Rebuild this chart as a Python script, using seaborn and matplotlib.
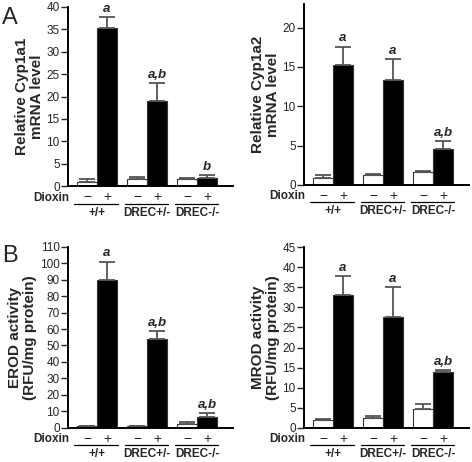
import numpy as np
import pandas as pd
import matplotlib
matplotlib.use('Agg')
from matplotlib import pyplot as plt
from matplotlib import transforms
import seaborn as sns


# genotypes and treatment
genotipos = ['+/+', 'DREC+/-', 'DREC-/-']
dioxina = ['\u2212', '+']

# Cyp1a1 mRNA (controle, dioxina) por genotipo
cyp1a1_ctrl = [1.0, 1.5, 1.5]
cyp1a1_ctrl_err = [0.7, 0.5, 0.4]
cyp1a1_diox = [35.2, 19.0, 1.8]
cyp1a1_diox_err = [2.5, 4.0, 0.7]
cyp1a1_letras = ['a', 'a,b', 'b']

# Cyp1a2 mRNA
cyp1a2_ctrl = [0.9, 1.2, 1.6]
cyp1a2_ctrl_err = [0.3, 0.2, 0.2]
cyp1a2_diox = [15.3, 13.4, 4.5]
cyp1a2_diox_err = [2.3, 2.6, 1.1]
cyp1a2_letras = ['a', 'a', 'a,b']

# EROD
erod_ctrl = [1.0, 0.8, 2.5]
erod_ctrl_err = [0.3, 0.2, 1.2]
erod_diox = [90.0, 54.0, 6.5]
erod_diox_err = [11.0, 4.5, 2.5]
erod_letras = ['a', 'a,b', 'a,b']

# MROD
mrod_ctrl = [2.0, 2.5, 4.8]
mrod_ctrl_err = [0.2, 0.4, 1.2]
mrod_diox = [33.0, 27.7, 13.8]
mrod_diox_err = [4.7, 7.3, 0.6]
mrod_letras = ['a', 'a', 'a,b']


sns.set_theme(style='ticks')
plt.rcParams['font.family'] = ['Liberation Sans', 'DejaVu Sans']


def painel(ax, ctrl, ctrl_err, diox, diox_err, letras, ylabel, ymax, yticks):
    df = pd.DataFrame({
        'genotipo': genotipos * 2,
        'dioxina': [dioxina[0]] * 3 + [dioxina[1]] * 3,
        'valor': ctrl + diox,
    })
    sns.barplot(data=df, x='genotipo', y='valor', hue='dioxina',
                order=genotipos, hue_order=dioxina,
                palette=['white', 'black'], edgecolor='#333333', linewidth=0.8,
                errorbar=None, width=0.8, legend=False, ax=ax)

    erros = [ctrl_err, diox_err]
    barras = list(ax.containers)
    for k, cont in enumerate(barras):
        for i, p in enumerate(cont.patches):
            xc = p.get_x() + p.get_width() / 2
            h = p.get_height()
            ax.errorbar(xc, h, yerr=[[0], [erros[k][i]]], fmt='none',
                        ecolor='#555555', elinewidth=1.3, capsize=6,
                        capthick=1.3, zorder=1)
            if k == 1:
                ax.annotate(letras[i], (xc, h + erros[k][i]), xytext=(0, 1.5),
                            textcoords='offset points', ha='center', va='bottom',
                            fontsize=9.5, fontweight='bold', fontstyle='italic')

    ax.set_xlim(-0.58, 2.72)
    ax.set_ylim(0, ymax)
    ax.set_yticks(yticks)
    ax.set_xticks([])
    ax.set_xlabel('')
    ax.set_ylabel(ylabel, fontsize=11, fontweight='bold', linespacing=1.05,
                  labelpad=2)
    ax.tick_params(axis='y', labelsize=8.5, length=5, width=1, pad=1)
    sns.despine(ax=ax)
    for s in ['left', 'bottom']:
        ax.spines[s].set_linewidth(1.4)
        ax.spines[s].set_color('black')

    # linhas abaixo do eixo, deslocadas em pixels a partir da base
    base = transforms.blended_transform_factory(ax.transData, ax.transAxes)
    fig = ax.figure

    def abaixo(px):
        return base + transforms.ScaledTranslation(0, -px / 100, fig.dpi_scale_trans)

    t_diox = ax.transAxes + transforms.ScaledTranslation(0, -11.5 / 100, fig.dpi_scale_trans)
    ax.text(0.01, 0, 'Dioxin', transform=t_diox, ha='right',
            va='center', fontsize=8.5, fontweight='bold')
    for i, g in enumerate(genotipos):
        ax.text(i - 0.2, 0, dioxina[0], transform=abaixo(11), ha='center',
                va='center', fontsize=10)
        ax.text(i + 0.2, 0, dioxina[1], transform=abaixo(11), ha='center',
                va='center', fontsize=10)
        ax.plot([i - 0.45, i + 0.42], [0, 0], transform=abaixo(17.5),
                color='black', lw=0.9, clip_on=False)
        ax.text(i, 0, g, transform=abaixo(26.5), ha='center', va='center',
                fontsize=8.5, fontweight='bold')


fig = plt.figure(figsize=(4.72, 4.62), dpi=100)
ax1 = fig.add_axes([0.144, 0.597, 0.350, 0.388])
ax2 = fig.add_axes([0.644, 0.600, 0.350, 0.391])
ax3 = fig.add_axes([0.144, 0.074, 0.350, 0.392])
ax4 = fig.add_axes([0.644, 0.074, 0.350, 0.391])

painel(ax1, cyp1a1_ctrl, cyp1a1_ctrl_err, cyp1a1_diox, cyp1a1_diox_err,
       cyp1a1_letras, 'Relative Cyp1a1\nmRNA level', 40, range(0, 41, 5))
painel(ax2, cyp1a2_ctrl, cyp1a2_ctrl_err, cyp1a2_diox, cyp1a2_diox_err,
       cyp1a2_letras, 'Relative Cyp1a2\nmRNA level', 23, range(0, 21, 5))
painel(ax3, erod_ctrl, erod_ctrl_err, erod_diox, erod_diox_err,
       erod_letras, 'EROD activity\n(RFU/mg protein)', 110, range(0, 111, 10))
painel(ax4, mrod_ctrl, mrod_ctrl_err, mrod_diox, mrod_diox_err,
       mrod_letras, 'MROD activity\n(RFU/mg protein)', 45, range(0, 46, 5))

fig.text(0.005, 0.985, 'A', fontsize=17, va='top', ha='left')
fig.text(0.005, 0.47, 'B', fontsize=17, va='top', ha='left')

fig.savefig('out.png', dpi=100)
